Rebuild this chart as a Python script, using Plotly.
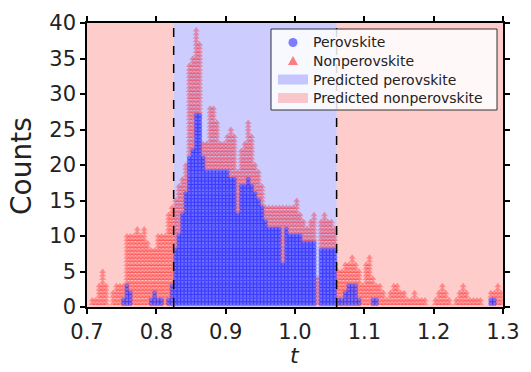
import plotly.graph_objects as go

# ---- data (bin width 0.005, bins from 0.70 to 1.30) ----
bin_start = 0.70
bin_width = 0.005
total_counts = [
    0, 1, 1, 3, 5, 3, 0, 2, 3, 3,
    3, 10, 10, 10, 11, 10, 11, 9, 8, 8,
    10, 10, 10, 13, 14, 15, 17, 18, 20, 34,
    35, 39, 37, 23, 23, 28, 28, 26, 23, 23,
    24, 25, 24, 19, 22, 23, 26, 24, 20, 19,
    17, 14, 14, 14, 14, 14, 14, 14, 14, 14,
    15, 13, 12, 11, 12, 13, 4, 12, 13, 12,
    12, 11, 5, 5, 6, 6, 7, 6, 5, 3,
    6, 7, 4, 3, 3, 2, 1, 2, 3, 3,
    2, 2, 1, 1, 2, 1, 1, 1, 0, 0,
    1, 2, 3, 2, 1, 0, 1, 2, 3, 2,
    1, 1, 1, 1, 0, 0, 2, 2, 3, 2,
]
perovskite_counts = [
    0, 0, 0, 0, 0, 0, 0, 0, 0, 0,
    1, 3, 2, 0, 0, 0, 0, 0, 1, 2,
    1, 1, 0, 1, 3, 8, 10, 13, 16, 21,
    22, 27, 27, 21, 19, 19, 19, 19, 19, 19,
    19, 18, 18, 13, 17, 17, 18, 17, 16, 15,
    14, 12, 11, 11, 11, 11, 6, 11, 10, 10,
    10, 10, 9, 9, 9, 9, 0, 8, 8, 8,
    8, 8, 1, 1, 2, 3, 3, 3, 1, 0,
    0, 0, 1, 1, 0, 0, 0, 0, 0, 0,
    0, 0, 0, 0, 0, 0, 0, 0, 0, 0,
    0, 0, 0, 0, 0, 0, 0, 0, 0, 0,
    0, 0, 0, 0, 0, 0, 1, 1, 0, 0,
]
nonperovskite_counts = [t - p for t, p in zip(total_counts, perovskite_counts)]

t_low = 0.825
t_high = 1.06
x_min, x_max = 0.7, 1.3
y_min, y_max = 0, 40
x_ticks = [0.7, 0.8, 0.9, 1.0, 1.1, 1.2, 1.3]
x_tick_labels = ["0.7", "0.8", "0.9", "1.0", "1.1", "1.2", "1.3"]
y_ticks = [0, 5, 10, 15, 20, 25, 30, 35, 40]
legend_labels = ["Perovskite", "Nonperovskite", "Predicted perovskite", "Predicted nonperovskite"]
x_title = "<i>t</i>"
y_title = "Counts"

BLUE_MARK = "rgba(0,0,255,0.5)"
RED_MARK = "rgba(255,0,0,0.5)"
BLUE_SPAN = "rgba(0,0,255,0.2)"
RED_SPAN = "rgba(255,0,0,0.2)"

# ---- build stacked marker positions from the counts ----
step = 0.5
bx, by, rx, ry = [], [], [], []
for i, (p, n) in enumerate(zip(perovskite_counts, nonperovskite_counts)):
    xc = bin_start + bin_width * (i + 0.5)
    for k in range(1, int(round(p / step)) + 1):
        bx.append(xc)
        by.append(k * step)
    for k in range(1, int(round(n / step)) + 1):
        rx.append(xc)
        ry.append(p + k * step)

fig = go.Figure()
fig.add_trace(go.Scatter(
    x=bx, y=by, mode="markers", name=legend_labels[0], showlegend=False,
    marker=dict(symbol="circle", size=5, color="blue", opacity=0.45, line=dict(width=0)),
))
fig.add_trace(go.Scatter(
    x=rx, y=ry, mode="markers", name=legend_labels[1], showlegend=False,
    marker=dict(symbol="triangle-up", size=6, color="red", opacity=0.32, line=dict(width=0)),
))

# shaded regions + thresholds
fig.add_shape(type="rect", xref="x", yref="paper", x0=x_min, x1=t_low, y0=0, y1=1,
              fillcolor=RED_SPAN, line=dict(width=0), layer="below")
fig.add_shape(type="rect", xref="x", yref="paper", x0=t_low, x1=t_high, y0=0, y1=1,
              fillcolor=BLUE_SPAN, line=dict(width=0), layer="below")
fig.add_shape(type="rect", xref="x", yref="paper", x0=t_high, x1=x_max, y0=0, y1=1,
              fillcolor=RED_SPAN, line=dict(width=0), layer="below")
for xv in (t_low, t_high):
    fig.add_shape(type="line", xref="x", yref="paper", x0=xv, x1=xv, y0=0, y1=1,
                  line=dict(color="black", width=1.5, dash="dash"), layer="above")

# ---- legend box (drawn in paper coordinates) ----
ML, MR, MT, MB = 87, 28, 23, 65
W, H = 531, 372
PW, PH = W - ML - MR, H - MT - MB


def px(x):
    return (x - ML) / PW


def py(y):
    return (H - MB - y) / PH


rows = [42.5, 61, 79.5, 98]
fig.add_shape(type="rect", xref="paper", yref="paper",
              x0=px(271), x1=px(497), y0=py(110), y1=py(29),
              fillcolor="rgba(255,255,255,0.85)", line=dict(color="#333", width=1), layer="above")
sx = 293
fig.add_shape(type="circle", xref="paper", yref="paper",
              x0=px(sx - 4.5), x1=px(sx + 4.5), y0=py(rows[0] + 4.5), y1=py(rows[0] - 4.5),
              fillcolor=BLUE_MARK, line=dict(width=0), layer="above")
tri = "M {:.5f},{:.5f} L {:.5f},{:.5f} L {:.5f},{:.5f} Z".format(
    px(sx - 5), py(rows[1] + 4), px(sx + 5), py(rows[1] + 4), px(sx), py(rows[1] - 5))
fig.add_shape(type="path", xref="paper", yref="paper", path=tri,
              fillcolor=RED_MARK, line=dict(width=0), layer="above")
for r, col in ((rows[2], BLUE_SPAN), (rows[3], RED_SPAN)):
    fig.add_shape(type="rect", xref="paper", yref="paper",
                  x0=px(278), x1=px(308), y0=py(r + 5), y1=py(r - 5),
                  fillcolor=col, line=dict(width=0), layer="above")
for r, lab in zip(rows, legend_labels):
    fig.add_annotation(x=px(311.5), y=py(r), xref="paper", yref="paper", text=lab,
                       showarrow=False, xanchor="left", yanchor="middle", borderpad=0,
                       font=dict(size=14, color="#222"))

# axis titles as text labels
fig.add_annotation(x=0.5, y=py(355), xref="paper", yref="paper", text=x_title,
                   showarrow=False, xanchor="center", yanchor="middle", borderpad=0,
                   font=dict(size=22, color="#222"))
fig.add_annotation(x=px(21), y=py(166), xref="paper", yref="paper", text=y_title,
                   textangle=-90, showarrow=False, xanchor="center", yanchor="middle",
                   borderpad=0, font=dict(size=28, color="#222"))

axis_common = dict(
    showline=True, linecolor="black", linewidth=1.5, mirror="allticks",
    ticks="outside", ticklen=5, tickwidth=1.5, tickcolor="black",
    showgrid=False, zeroline=False, automargin=False,
    tickfont=dict(size=21, color="#222"),
)
fig.update_xaxes(range=[x_min, x_max], tickvals=x_ticks, ticktext=x_tick_labels, **axis_common)
fig.update_yaxes(range=[y_min, y_max], tickvals=y_ticks, **axis_common)

fig.update_layout(
    width=W, height=H,
    margin=dict(l=ML, r=MR, t=MT, b=MB),
    plot_bgcolor="white", paper_bgcolor="white",
    font=dict(family="DejaVu Sans", color="#222"),
    showlegend=False,
)

fig.write_html("out.html")
